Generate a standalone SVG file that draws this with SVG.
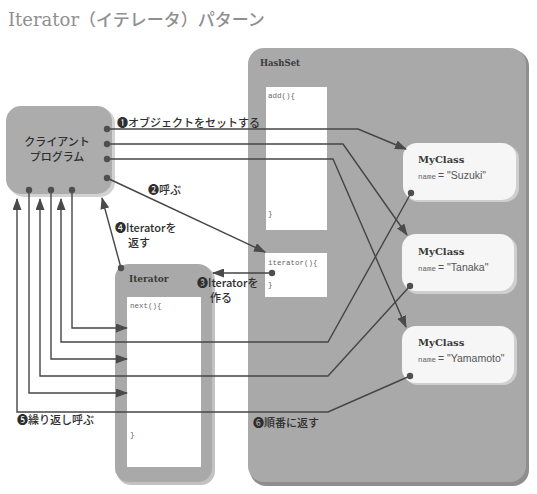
<svg xmlns="http://www.w3.org/2000/svg" width="537" height="494" viewBox="0 0 537 494">
<defs>
<marker id="arr" markerUnits="userSpaceOnUse" markerWidth="12" markerHeight="9" refX="11" refY="4.5" orient="auto">
<path d="M0,0 L12,4.5 L0,9 z" fill="#4a4a4a"/>
</marker>
<style>
.title{font-family:"Noto Sans CJK JP","Liberation Sans",sans-serif;font-size:17px;font-weight:500;fill:#8f8f8f}
.lbl{font-family:"Noto Sans CJK JP","Noto Sans",sans-serif;font-size:11px;font-weight:500;fill:#2e2e2e}
.slab{font-family:"DejaVu Serif","Liberation Serif",serif;font-weight:bold;fill:#3a3a3a}
.code{font-family:"Liberation Mono","DejaVu Sans Mono",monospace;font-size:7.5px;fill:#666}
.val{font-family:"Liberation Sans",sans-serif;font-size:10.5px;fill:#555}
.panel{fill:#a9a9a9}
.shadow{fill:#8e8e8e}
.white{fill:#ffffff}
.obj{fill:#f6f6f6}
.objsh{fill:#cfcfcf}
.line{fill:none;stroke:#454545;stroke-width:1.4}
.dot{fill:#4f4f4f}
</style>
</defs>
<rect width="537" height="494" fill="#ffffff"/>
<text class="title" x="8" y="26"><tspan font-family="DejaVu Serif, serif" font-weight="normal" font-size="18">Iterator</tspan>（イテレータ）パターン</text>

<g id="hashset">
<rect class="shadow" x="250" y="50" width="279" height="436" rx="16"/>
<rect class="panel" x="248" y="48" width="278" height="434" rx="16"/>
<text class="slab" x="260" y="66" font-size="8.5">HashSet</text>
</g>
<g id="add-method">
<rect class="white" x="266" y="87" width="61" height="143"/>
<text class="code" x="268" y="98">add(){</text>
<text class="code" x="268" y="216">}</text>
</g>
<g id="iterator-method">
<rect class="white" x="265" y="253" width="62" height="44"/>
<text class="code" x="268" y="265">iterator(){</text>
<text class="code" x="268" y="287">}</text>
</g>

<g id="myclass-suzuki">
<rect class="objsh" x="405" y="145" width="114" height="57" rx="14"/>
<rect class="obj" x="403" y="143" width="113" height="57" rx="14"/>
<text class="slab" x="418" y="163" font-size="10">MyClass</text>
<text x="418" y="179"><tspan class="code" font-size="7">name</tspan><tspan class="val" dx="2">= "Suzuki"</tspan></text>
</g>
<g id="myclass-tanaka">
<rect class="objsh" x="404" y="236" width="113" height="58" rx="14"/>
<rect class="obj" x="402" y="234" width="112" height="57" rx="14"/>
<text class="slab" x="418" y="255" font-size="10">MyClass</text>
<text x="418" y="271"><tspan class="code" font-size="7">name</tspan><tspan class="val" dx="2">= "Tanaka"</tspan></text>
</g>
<g id="myclass-yamamoto">
<rect class="objsh" x="404" y="328" width="113" height="57" rx="14"/>
<rect class="obj" x="402" y="326" width="112" height="57" rx="14"/>
<text class="slab" x="418" y="346" font-size="10">MyClass</text>
<text x="418" y="362"><tspan class="code" font-size="7">name</tspan><tspan class="val" dx="2">= "Yamamoto"</tspan></text>
</g>

<g id="iterator">
<rect fill="#c2c2c2" x="117" y="266" width="98" height="219" rx="14"/>
<rect class="panel" x="115" y="264" width="97" height="218" rx="14"/>
<text class="slab" x="129" y="282" font-size="9">Iterator</text>
<rect class="white" x="127" y="297" width="74" height="170"/>
<text class="code" x="130" y="308">next(){</text>
<text class="code" x="130" y="437">}</text>
</g>

<g id="client">
<rect fill="#d2d2d2" x="9" y="108" width="106" height="89" rx="15"/>
<rect fill="#acacac" x="6" y="106" width="106" height="88" rx="15"/>
<text class="lbl" x="57" y="146" text-anchor="middle" font-size="12" font-weight="bold" fill="#3c3c3c">クライアント</text>
<text class="lbl" x="57" y="161" text-anchor="middle" font-size="12" font-weight="bold" fill="#3c3c3c">プログラム</text>
</g>

<g id="connectors">
<path class="line" d="M107,129 H358 L406,149" marker-end="url(#arr)"/>
<path class="line" d="M107,144 H343 L407,235" marker-end="url(#arr)"/>
<path class="line" d="M107,159 H333 L406,327" marker-end="url(#arr)"/>
<path class="line" d="M107,178 L265,252" marker-end="url(#arr)"/>
<path class="line" d="M272,273 H213" marker-end="url(#arr)"/>
<path class="line" d="M121,268 L102,198" marker-end="url(#arr)"/>
<path class="line" d="M72,190 V328 H127" marker-end="url(#arr)"/>
<path class="line" d="M51,190 V359 H127" marker-end="url(#arr)"/>
<path class="line" d="M29,190 V393 H127" marker-end="url(#arr)"/>
<path class="line" d="M411,193 L328,342 H61 V199" marker-end="url(#arr)"/>
<path class="line" d="M410,286 L328,376 H40 V199" marker-end="url(#arr)"/>
<path class="line" d="M410,376 L328,412 H17 V199" marker-end="url(#arr)"/>
<circle class="dot" cx="107" cy="129" r="3.2"/>
<circle class="dot" cx="107" cy="144" r="3.2"/>
<circle class="dot" cx="107" cy="159" r="3.2"/>
<circle class="dot" cx="107" cy="178" r="3.2"/>
<circle class="dot" cx="29" cy="190" r="3.2"/>
<circle class="dot" cx="51" cy="190" r="3.2"/>
<circle class="dot" cx="72" cy="190" r="3.2"/>
<circle class="dot" cx="272" cy="273" r="3.2"/>
<circle class="dot" cx="121" cy="268" r="3.2"/>
<circle class="dot" cx="411" cy="193" r="3.2"/>
<circle class="dot" cx="410" cy="286" r="3.2"/>
<circle class="dot" cx="410" cy="376" r="3.2"/>
</g>

<g id="labels">
<text class="lbl" x="117" y="127">❶オブジェクトをセットする</text>
<text class="lbl" x="148" y="194">❷呼ぶ</text>
<text class="lbl" x="115" y="232">❹Iteratorを</text>
<text class="lbl" x="128" y="247">返す</text>
<text class="lbl" x="197" y="287">❸Iteratorを</text>
<text class="lbl" x="210" y="302">作る</text>
<text class="lbl" x="17" y="424">❺繰り返し呼ぶ</text>
<text class="lbl" x="253" y="427">❻順番に返す</text>
</g>
</svg>
